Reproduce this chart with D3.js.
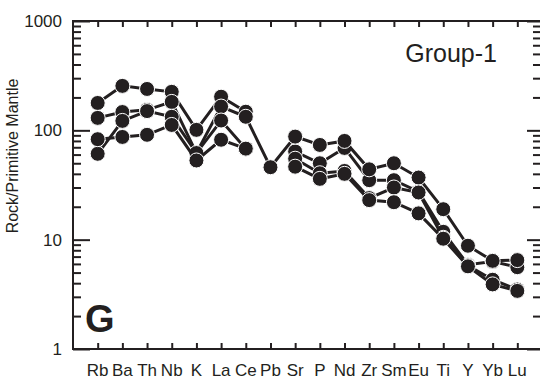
<!DOCTYPE html>
<html>
<head>
<meta charset="utf-8">
<script src="https://cdn.jsdelivr.net/npm/d3@7"></script>
<style>
  body { margin: 0; background: #fff; }
  svg { display: block; font-family: "Liberation Sans", Arial, sans-serif; }
  .tick line { stroke: #231f20; stroke-width: 2; }
  .domain { display: none; }
</style>
</head>
<body>
<svg id="chart" width="540" height="379"></svg>
<script>
// element order along the x axis
var elements = ["Rb","Ba","Th","Nb","K","La","Ce","Pb","Sr","P","Nd","Zr","Sm","Eu","Ti","Y","Yb","Lu"];

// normalised values per sample (null = not plotted)
var sample1 = [178, 255, 239, 225, 101, 203, 148, null, 64, 50, 69, 35, 35, 27.5, 11.8, 5.9, 6.3, 5.6];
var sample2 = [130, 147, 154, 182, 62, 165, 133, 46, 87.6, 73.5, 80, 44, 50, 37, 19, 8.8, 6.4, 6.5];
var sample3 = [61, 122, 150, 133, 62, 123, 68, null, 55, 40.5, 42.5, 24, 30, 27, 10.4, 5.8, 4.3, 3.5];
var sample4 = [83, 87, 91, 112, 53, 82, 68, null, 46.5, 36, 40, 23, 22, 17.4, 10.2, 5.7, 3.9, 3.4];
var samples = [sample1, sample2, sample3, sample4];

var yMajor = [1, 10, 100, 1000];
var yMinor = [2,3,4,5,6,7,8,9,20,30,40,50,60,70,80,90,200,300,400,500,600,700,800,900];

var ink = "#231f20";
// plot box (window.top is reserved, so prefixed names)
var plotLeft = 73, plotRight = 542, plotTop = 21, plotBottom = 349;

var svg = d3.select("#chart");

var x = d3.scalePoint().domain(elements).range([plotLeft, plotRight]).padding(1);
var y = d3.scaleLog().domain([1, 1000]).range([plotBottom, plotTop]);

//inward ticks on the left and right
svg.append("g").attr("transform", "translate(" + plotLeft + ",0)")
    .call(d3.axisRight(y).tickValues(yMinor).tickSize(8).tickFormat(""));
svg.append("g").attr("transform", "translate(" + plotLeft + ",0)")
    .call(d3.axisRight(y).tickValues(yMajor).tickSize(17).tickFormat(""));
svg.append("g").attr("transform", "translate(" + plotRight + ",0)")
    .call(d3.axisLeft(y).tickValues(yMinor).tickSize(9).tickFormat(""));
svg.append("g").attr("transform", "translate(" + plotRight + ",0)")
    .call(d3.axisLeft(y).tickValues(yMajor).tickSize(15).tickFormat(""));

//category ticks top and bottom
svg.append("g").attr("transform", "translate(0," + plotBottom + ")")
    .call(d3.axisTop(x).tickSize(6).tickFormat(""));
svg.append("g").attr("transform", "translate(0," + plotTop + ")")
    .call(d3.axisBottom(x).tickSize(6).tickFormat(""));

//frame
svg.append("rect")
    .attr("x", plotLeft).attr("y", plotTop)
    .attr("width", plotRight - plotLeft).attr("height", plotBottom - plotTop)
    .attr("fill", "none").attr("stroke", ink).attr("stroke-width", 2);

//y labels
svg.selectAll("text.ylab")
    .data(yMajor)
    .enter()
    .append("text")
    .attr("class", "ylab")
    .attr("x", plotLeft - 11)
    .attr("y", function(d){ return y(d); })
    .attr("dy", "0.36em")
    .attr("text-anchor", "end")
    .attr("font-size", 17)
    .attr("fill", ink)
    .text(function(d){ return d; });

//x labels
svg.selectAll("text.xlab")
    .data(elements)
    .enter()
    .append("text")
    .attr("class", "xlab")
    .attr("x", function(d){ return x(d); })
    .attr("y", 376)
    .attr("text-anchor", "middle")
    .attr("font-size", 17)
    .attr("fill", ink)
    .text(function(d){ return d; });

svg.append("text")
    .attr("transform", "translate(18,156) rotate(-90)")
    .attr("text-anchor", "middle")
    .attr("font-size", 16)
    .attr("fill", ink)
    .text("Rock/Primitive Mantle");

svg.append("text")
    .attr("x", 497).attr("y", 62)
    .attr("text-anchor", "end")
    .attr("font-size", 25)
    .attr("fill", ink)
    .text("Group-1");

svg.append("text")
    .attr("x", 85).attr("y", 332)
    .attr("font-size", 38)
    .attr("font-weight", "bold")
    .attr("fill", ink)
    .text("G");

//samples: line then dots
var line = d3.line()
    .defined(function(d){ return d != null; })
    .x(function(d, i){ return x(elements[i]); })
    .y(function(d){ return y(d); });

samples.forEach(function(s){
    var g = svg.append("g");
    g.append("path")
        .datum(s)
        .attr("d", line)
        .attr("fill", "none")
        .attr("stroke", ink)
        .attr("stroke-width", 3);
    g.selectAll("circle")
        .data(s.map(function(v, i){ return {el: elements[i], v: v}; })
               .filter(function(d){ return d.v != null; }))
        .enter()
        .append("circle")
        .attr("cx", function(d){ return x(d.el); })
        .attr("cy", function(d){ return y(d.v); })
        .attr("r", 7.5)
        .attr("fill", ink)
        .attr("stroke", "#fff")
        .attr("stroke-width", 1);
});
</script>
</body>
</html>
